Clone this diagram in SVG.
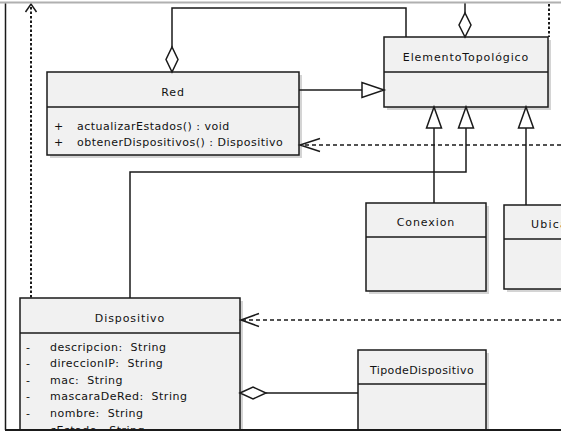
<svg xmlns="http://www.w3.org/2000/svg" width="561" height="432" viewBox="0 0 561 432">
<defs>
<style>
.box{fill:#f1f1f1;stroke:#1a1a1a;stroke-width:1.5}
.shadow{fill:#d4d4d4}
.div{stroke:#1a1a1a;stroke-width:1.5}
.t{font-family:"DejaVu Sans",Verdana,sans-serif;font-size:11px;fill:#111;letter-spacing:0.5px;white-space:pre}
.title{text-anchor:middle;letter-spacing:0.9px}
.ln{fill:none;stroke:#1a1a1a;stroke-width:1.5}
.dash{fill:none;stroke:#1a1a1a;stroke-width:1.3;stroke-dasharray:4 3}
.dot{fill:none;stroke:#1a1a1a;stroke-width:2;stroke-dasharray:2.5 2}
.tri{fill:#fff;stroke:#1a1a1a;stroke-width:1.5}
</style>
</defs>
<rect width="561" height="432" fill="#fff"/>

<g id="Red">
<rect class="shadow" x="50" y="75" width="252" height="83"/>
<rect class="box" x="47" y="72" width="252" height="83"/>
<line class="div" x1="47" y1="107" x2="299" y2="107"/>
<text class="t title" x="173" y="96">Red</text>
<text class="t" x="54" y="130">+</text>
<text class="t" x="77" y="130">actualizarEstados() : void</text>
<text class="t" x="54" y="146">+</text>
<text class="t" x="77" y="146">obtenerDispositivos() : Dispositivo</text>
</g>

<g id="ElementoTopologico">
<rect class="shadow" x="387" y="40" width="164" height="70"/>
<rect class="box" x="384" y="37" width="164" height="70"/>
<line class="div" x1="384" y1="72" x2="548" y2="72"/>
<text class="t title" x="466" y="61">ElementoTopológico</text>
</g>

<g id="Conexion">
<rect class="shadow" x="369" y="206" width="120" height="88"/>
<rect class="box" x="366" y="203" width="120" height="88"/>
<line class="div" x1="366" y1="237" x2="486" y2="237"/>
<text class="t title" x="426" y="226">Conexion</text>
</g>

<g id="Ubicacion">
<rect class="shadow" x="507" y="208" width="80" height="84"/>
<rect class="box" x="504" y="205" width="80" height="84"/>
<line class="div" x1="504" y1="239" x2="584" y2="239"/>
<text class="t" x="531" y="228" style="letter-spacing:1.2px">Ubicacion</text>
</g>

<g id="Dispositivo">
<rect class="shadow" x="23" y="301" width="220" height="140"/>
<rect class="box" x="20" y="298" width="220" height="140"/>
<line class="div" x1="20" y1="333" x2="240" y2="333"/>
<text class="t title" x="130" y="322">Dispositivo</text>
<text class="t" x="26" y="351">-</text>
<text class="t" x="50" y="351" xml:space="preserve">descripcion:  String</text>
<text class="t" x="26" y="367">-</text>
<text class="t" x="50" y="367" xml:space="preserve">direccionIP:  String</text>
<text class="t" x="26" y="384">-</text>
<text class="t" x="50" y="384" xml:space="preserve">mac:  String</text>
<text class="t" x="26" y="400">-</text>
<text class="t" x="50" y="400" xml:space="preserve">mascaraDeRed:  String</text>
<text class="t" x="26" y="417">-</text>
<text class="t" x="50" y="417" xml:space="preserve">nombre:  String</text>
<text class="t" x="50" y="434" xml:space="preserve">cEstado:  String</text>
</g>

<g id="TipodeDispositivo">
<rect class="shadow" x="361" y="353" width="128" height="90"/>
<rect class="box" x="358" y="350" width="128" height="90"/>
<line class="div" x1="358" y1="384" x2="486" y2="384"/>
<text class="t title" x="422" y="374" style="letter-spacing:0.4px">TipodeDispositivo</text>
</g>

<g id="connectors">
<polyline class="ln" points="172,47 172,8 406,8 406,37"/>
<polygon class="tri" points="172,72 166,59.5 172,47 178,59.5"/>
<line class="ln" x1="465" y1="3" x2="465" y2="13"/>
<polygon class="tri" points="465,37 459,25 465,13 471,25"/>
<line class="dot" x1="549" y1="4" x2="549" y2="37"/>
<line class="ln" x1="299" y1="90" x2="362" y2="90"/>
<polygon class="tri" points="384,90 362,82.5 362,97.5"/>
<line class="ln" x1="434" y1="128" x2="434" y2="203"/>
<polygon class="tri" points="434,107 426.5,128 441.5,128"/>
<polyline class="ln" points="466,128 466,172 130,172 130,298"/>
<polygon class="tri" points="466,107 458.5,128 473.5,128"/>
<line class="ln" x1="526" y1="128" x2="526" y2="205"/>
<polygon class="tri" points="526,107 518.5,128 533.5,128"/>
<line class="dash" x1="561" y1="145" x2="302" y2="145"/>
<polyline class="ln" points="320,138.5 300,145 320,151.5"/>
<line class="dash" x1="561" y1="320" x2="242" y2="320"/>
<polyline class="ln" points="259,313.5 241,320 259,326.5"/>
<line class="ln" x1="266" y1="393" x2="358" y2="393"/>
<polygon class="tri" points="240,393 253,387 266,393 253,399"/>
<line class="dot" x1="31" y1="7" x2="31" y2="298"/>
<polyline class="ln" points="25.5,12 31,4 36.5,12"/>
</g>

<g id="frame">
<line x1="0" y1="2.5" x2="561" y2="2.5" stroke="#b0b0b0" stroke-width="2"/>
<line x1="5.5" y1="3.5" x2="5.5" y2="430" stroke="#1a1a1a" stroke-width="1.5"/>
<rect x="0" y="431" width="561" height="1" fill="#fff"/>
<line x1="5" y1="430" x2="561" y2="430" stroke="#1a1a1a" stroke-width="2"/>
</g>
</svg>
